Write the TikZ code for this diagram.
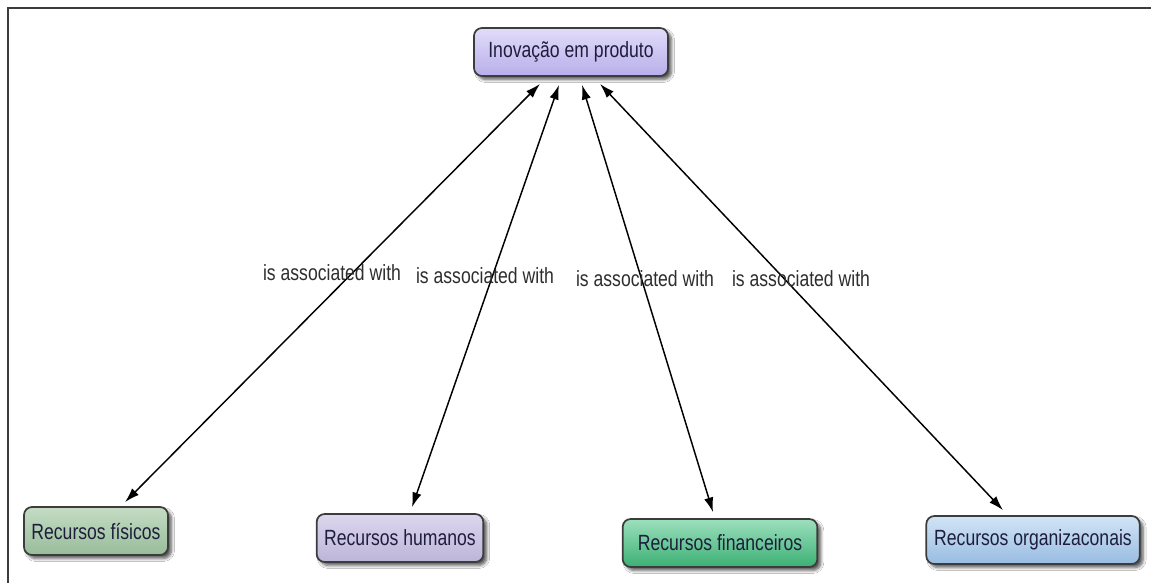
\documentclass[tikz,border=0pt]{standalone}
\usepackage{fontspec}
\usetikzlibrary{arrows.meta,calc,shadows.blur}
\newfontfamily\mapfont[FakeStretch=0.8]{Liberation Sans}

\definecolor{textink}{HTML}{1E1E3C}
\definecolor{labelink}{HTML}{2E2E2E}
\definecolor{boxedge}{HTML}{3C3C3C}
\definecolor{topA}{HTML}{E2DCFA}\definecolor{topB}{HTML}{B8AEEA}
\definecolor{fisA}{HTML}{C4DCC4}\definecolor{fisB}{HTML}{98BC9A}
\definecolor{humA}{HTML}{DCD6EE}\definecolor{humB}{HTML}{BDB5D8}
\definecolor{finA}{HTML}{9CE0BC}\definecolor{finB}{HTML}{3CB074}
\definecolor{orgA}{HTML}{D2E4F6}\definecolor{orgB}{HTML}{98BCE2}

\tikzset{
  concept/.style={draw=boxedge, line width=1.3pt, rounded corners=6pt,
    minimum height=36pt, inner sep=4pt, text=textink,
    font=\mapfont\fontsize{16.5pt}{19pt}\selectfont,
    blur shadow={shadow xshift=2.6pt, shadow yshift=-2.6pt,
      shadow blur steps=6, shadow blur radius=2.2pt, shadow opacity=65}},
  linklabel/.style={text=labelink, inner sep=0pt,
    font=\mapfont\fontsize{16.5pt}{19pt}\selectfont},
  assoc/.style={draw=black, line width=1.1pt,
    {Latex[length=11pt,width=7pt]}-{Latex[length=11pt,width=7pt]}},
}

\begin{document}
\begin{tikzpicture}[x=0.75pt,y=-0.75pt]
  \useasboundingbox (0,0) rectangle (1151,583);
  \fill[white] (0,0) rectangle (1151,583);

  % frame (left and top edges only)
  \draw[draw=boxedge, line width=1.2pt] (8,583) -- (8,8) -- (1151,8);

  % concepts
  \node[concept, minimum width=145.5pt, top color=topA, bottom color=topB]
    (top) at (571,52) {Inovação em produto};
  \node[concept, minimum width=108pt, top color=fisA, bottom color=fisB]
    (fis) at (96,531) {Recursos físicos};
  \node[concept, minimum width=125pt, top color=humA, bottom color=humB]
    (hum) at (400,538) {Recursos humanos};
  \node[concept, minimum width=146pt, top color=finA, bottom color=finB]
    (fin) at (720,543) {Recursos financeiros};
  \node[concept, minimum width=160pt, top color=orgA, bottom color=orgB]
    (org) at (1033,540) {Recursos organizaconais};

  % links
  \draw[assoc] ($(top.south)+(-31,7)$) -- ($(fis.north)+(29,-4)$);
  \draw[assoc] ($(top.south)+(-12,8)$) -- ($(hum.north)+(12,-6)$);
  \draw[assoc] ($(top.south)+(11,8)$) -- ($(fin.north)+(-7,-6)$);
  \draw[assoc] ($(top.south)+(29,7)$) -- ($(org.north)+(-30,-5)$);

  % link labels
  \node[linklabel] (l1) at (332,273) {is associated with};
  \node[linklabel] (l2) at (485,276) {is associated with};
  \node[linklabel] (l3) at (645,279) {is associated with};
  \node[linklabel] (l4) at (801,279) {is associated with};
\end{tikzpicture}
\end{document}
